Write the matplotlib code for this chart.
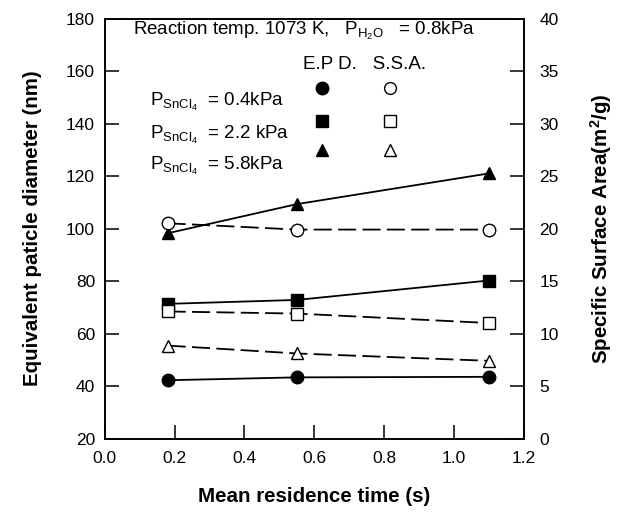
import matplotlib
matplotlib.use("Agg")
import matplotlib.pyplot as plt

plt.rcParams["font.family"] = ["Liberation Sans", "DejaVu Sans"]
plt.rcParams["mathtext.fontset"] = "custom"
plt.rcParams["mathtext.rm"] = "Liberation Sans"
plt.rcParams["mathtext.it"] = "Liberation Sans:italic"
plt.rcParams["mathtext.bf"] = "Liberation Sans:bold"

# Tempo médio de residência (s)
tempo = [0.18, 0.55, 1.1]

# Diâmetro equivalente (nm) - E.P.D., eixo esquerdo
epd_04 = [42.2, 43.3, 43.5]
epd_22 = [71.3, 72.8, 80.2]
epd_58 = [98.2, 109.3, 121.0]

# Área superficial específica (m2/g) - S.S.A., eixo direito
ssa_04 = [20.5, 19.9, 19.9]
ssa_22 = [12.1, 11.9, 11.0]
ssa_58 = [8.85, 8.1, 7.4]

x_ticks = [0.0, 0.2, 0.4, 0.6, 0.8, 1.0, 1.2]
y_ticks = [20, 40, 60, 80, 100, 120, 140, 160, 180]
y2_ticks = [0, 5, 10, 15, 20, 25, 30, 35, 40]

fig = plt.figure(figsize=(6.2, 5.15), dpi=100)
ax = fig.add_axes([0.169, 0.1485, 0.676, 0.8155])
ax2 = ax.twinx()

kw = dict(color="black", lw=1.3, markersize=9)
dash = (0, (10, 3.5))

ax.plot(tempo, epd_04, marker="o", ls="-", **kw)
ax.plot(tempo, epd_22, marker="s", ls="-", **kw)
ax.plot(tempo, epd_58, marker="^", ls="-", **kw)

ax2.plot(tempo, ssa_04, marker="o", ls=dash, mfc="white", **kw)
ax2.plot(tempo, ssa_22, marker="s", ls=dash, mfc="white", **kw)
ax2.plot(tempo, ssa_58, marker="^", ls=dash, mfc="white", **kw)

ax.set_xlim(0, 1.2)
ax.set_ylim(20, 180)
ax2.set_ylim(0, 40)
ax.set_xticks(x_ticks)
ax.set_xticklabels([f"{v:.1f}" for v in x_ticks])
ax.set_yticks(y_ticks)
ax2.set_yticks(y2_ticks)

ax.tick_params(axis="both", direction="in", length=10, width=1.1, labelsize=12.5)
ax.tick_params(axis="x", pad=9)
ax.tick_params(axis="y", pad=7)
ax2.tick_params(axis="y", direction="in", length=10, width=1.1, labelsize=12.5, pad=11)
for a in (ax, ax2):
    for s in a.spines.values():
        s.set_linewidth(1.2)

ax.set_xlabel("Mean residence time (s)", fontsize=14.8, fontweight="bold", labelpad=15)
ax.set_ylabel("Equivalent paticle diameter (nm)", fontsize=14.8, fontweight="bold", labelpad=17)
ax2.set_ylabel("Specific Surface Area(m$^{\\mathbf{2}}$/g)", fontsize=14.8, fontweight="bold",
               rotation=90, labelpad=21)

# Textos e legenda manual
fig.text(0.215, 0.932, "Reaction temp. 1073 K,   P$_{\\mathrm{H_2O}}$   = 0.8kPa",
         fontsize=13.5, va="baseline")
fig.text(0.489, 0.866, "E.P D.   S.S.A.", fontsize=13.5, va="baseline")

rotulos = ["P$_{\\mathrm{SnCl_4}}$  = 0.4kPa",
           "P$_{\\mathrm{SnCl_4}}$  = 2.2 kPa",
           "P$_{\\mathrm{SnCl_4}}$  = 5.8kPa"]
base_y = [0.794, 0.731, 0.670]
for r, by in zip(rotulos, base_y):
    fig.text(0.242, by, r, fontsize=13.5, va="baseline")

marcadores = ["o", "s", "^"]
linha_y = [0.829, 0.765, 0.709]
for m, ly in zip(marcadores, linha_y):
    ax2.plot([0.519], [ly], marker=m, color="black", markersize=9,
             transform=fig.transFigure, clip_on=False)
    ax2.plot([0.629], [ly], marker=m, color="black", mfc="white", markersize=8.5,
             transform=fig.transFigure, clip_on=False)

fig.savefig("out.png", dpi=100)
